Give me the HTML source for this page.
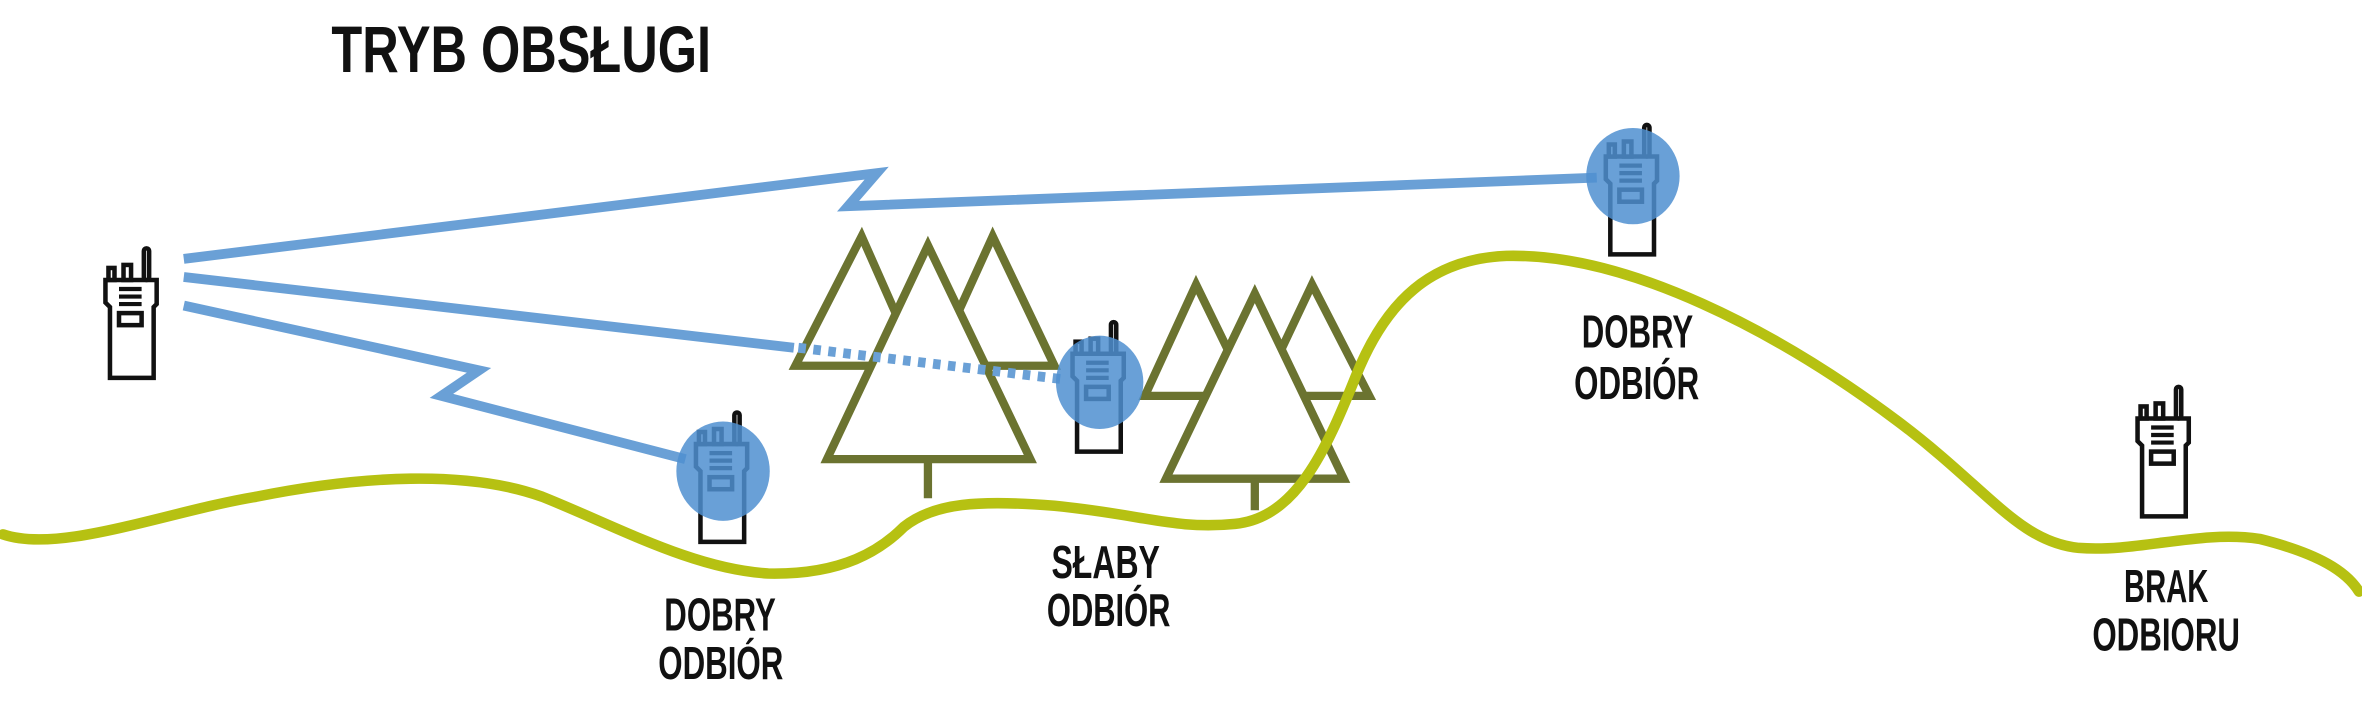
<!DOCTYPE html>
<html><head><meta charset="utf-8"><style>
html,body{margin:0;padding:0;background:#fff;}
svg{display:block;}
text{font-family:"Liberation Sans Narrow","Liberation Sans",sans-serif;font-weight:bold;fill:#111;}
</style></head><body>
<svg width="2362" height="709" viewBox="0 0 1568 471" preserveAspectRatio="none" xmlns="http://www.w3.org/2000/svg">
<defs>
<g id="r" fill="none" stroke="#111" stroke-width="3">
<path d="M2,22 H36 V38 L34,40 V87 H5 V40 L2,37 Z" fill="#fff"/>
<rect x="4" y="14" width="4" height="8" fill="#fff"/>
<rect x="14" y="12" width="5" height="10" fill="#fff"/>
<rect x="27.5" y="1" width="3.5" height="21" rx="1.7" fill="#fff"/>
<path d="M11,28 H26 M11,33 H26 M11,38 H26" stroke-width="2.8"/>
<rect x="11" y="44" width="15" height="8"/>
</g>
</defs>
<text x="220" y="48" font-size="44" textLength="252" lengthAdjust="spacingAndGlyphs">TRYB OBSŁUGI</text>

<g fill="#fff" stroke="#6b7330" stroke-width="5.5" stroke-linejoin="miter">
<polygon points="572,157 528,243 610,243"/>
<polygon points="659,157 620,243 700,243"/>
<polygon points="616,163 549,305 684,305"/>
<line x1="616" y1="305" x2="616" y2="331"/>
<polygon points="794,189 760,263 830,263"/>
<polygon points="871,189 836,263 909,263"/>
<polygon points="833,195 774,318 892,318"/>
<line x1="833" y1="318" x2="833" y2="339"/>
</g>

<path d="M2,355 C40,368 110,340 170,330 C240,316 310,312 360,330 C410,350 460,378 510,381 C560,382 585,365 600,350 C620,334 650,332 700,336 C760,342 780,352 820,348 C860,344 880,300 900,250 C920,200 950,172 1000,170 C1080,168 1180,220 1260,280 C1320,325 1340,360 1380,364 C1420,367 1460,352 1500,358 C1540,368 1558,380 1566,393" fill="none" stroke="#b6c112" stroke-width="7" stroke-linecap="round"/>

<g fill="none" stroke="#6aa0d6" stroke-width="6.5" stroke-linejoin="miter">
<polyline points="122,172 582,115 563,137 1060,118"/>
<line x1="122" y1="184" x2="527" y2="231"/>
<line x1="530" y1="231" x2="706" y2="252" stroke-dasharray="5,5"/>
<polyline points="122,203 318,246 293,263 455,305"/>
</g>

<use href="#r" x="68" y="164"/>
<use href="#r" x="460" y="273"/>
<use href="#r" x="710" y="213"/>
<use href="#r" x="1064" y="82"/>
<use href="#r" x="1417" y="256"/>

<g fill="#4f8fd0" fill-opacity="0.85">
<ellipse cx="480" cy="313" rx="31" ry="33"/>
<ellipse cx="730" cy="254" rx="29" ry="31"/>
<ellipse cx="1084" cy="117" rx="31" ry="32"/>
</g>

<g font-size="31">
<text x="441" y="419" textLength="74" lengthAdjust="spacingAndGlyphs">DOBRY</text>
<text x="437" y="451" textLength="83" lengthAdjust="spacingAndGlyphs">ODBIÓR</text>
<text x="698" y="384" textLength="72" lengthAdjust="spacingAndGlyphs">SŁABY</text>
<text x="695" y="416" textLength="82" lengthAdjust="spacingAndGlyphs">ODBIÓR</text>
<text x="1050" y="231" textLength="74" lengthAdjust="spacingAndGlyphs">DOBRY</text>
<text x="1045" y="265" textLength="83" lengthAdjust="spacingAndGlyphs">ODBIÓR</text>
<text x="1410" y="400" textLength="56" lengthAdjust="spacingAndGlyphs">BRAK</text>
<text x="1389" y="432" textLength="98" lengthAdjust="spacingAndGlyphs">ODBIORU</text>
</g>
</svg>
</body></html>
